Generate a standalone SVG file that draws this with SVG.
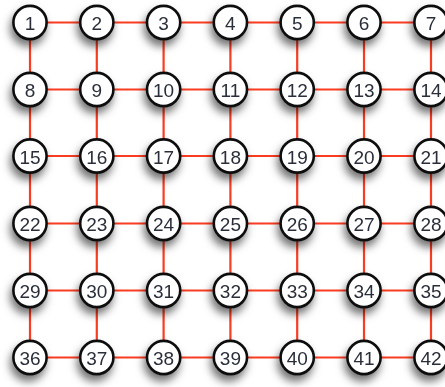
<svg xmlns="http://www.w3.org/2000/svg" width="445" height="387" viewBox="0 0 445 387">
<defs>
<filter id="sh" x="-60%" y="-60%" width="220%" height="240%">
<feDropShadow dx="-2" dy="6" stdDeviation="4" flood-color="#000" flood-opacity="0.55"/>
</filter>
<style>
.e{stroke:#fa3d22;stroke-width:2.2;fill:none}
.n circle{fill:#fff;stroke:#111;stroke-width:2.6}
.n text{font-family:"Liberation Sans",Arial,sans-serif;font-size:19px;fill:#2a2f3a;text-anchor:middle;dominant-baseline:central}
</style>
</defs>
<rect width="445" height="387" fill="#fff"/>
<g id="connectors">
<path class="e" d="M30,22.5H431M30,89.5H431M30,156H431M30,223.5H431M30,290.5H431M30,357.5H431M30,22.5V357.5M96.8,22.5V357.5M163.6,22.5V357.5M230.4,22.5V357.5M297.2,22.5V357.5M364,22.5V357.5M431,22.5V357.5"/>
</g>
<g id="n1" class="n" filter="url(#sh)"><circle cx="30" cy="22.5" r="16.6"/><text x="30" y="23.5">1</text></g>
<g id="n2" class="n" filter="url(#sh)"><circle cx="96.8" cy="22.5" r="16.6"/><text x="96.8" y="23.5">2</text></g>
<g id="n3" class="n" filter="url(#sh)"><circle cx="163.6" cy="22.5" r="16.6"/><text x="163.6" y="23.5">3</text></g>
<g id="n4" class="n" filter="url(#sh)"><circle cx="230.4" cy="22.5" r="16.6"/><text x="230.4" y="23.5">4</text></g>
<g id="n5" class="n" filter="url(#sh)"><circle cx="297.2" cy="22.5" r="16.6"/><text x="297.2" y="23.5">5</text></g>
<g id="n6" class="n" filter="url(#sh)"><circle cx="364" cy="22.5" r="16.6"/><text x="364" y="23.5">6</text></g>
<g id="n7" class="n" filter="url(#sh)"><circle cx="431" cy="22.5" r="16.6"/><text x="431" y="23.5">7</text></g>
<g id="n8" class="n" filter="url(#sh)"><circle cx="30" cy="89.5" r="16.6"/><text x="30" y="90.5">8</text></g>
<g id="n9" class="n" filter="url(#sh)"><circle cx="96.8" cy="89.5" r="16.6"/><text x="96.8" y="90.5">9</text></g>
<g id="n10" class="n" filter="url(#sh)"><circle cx="163.6" cy="89.5" r="16.6"/><text x="163.6" y="90.5">10</text></g>
<g id="n11" class="n" filter="url(#sh)"><circle cx="230.4" cy="89.5" r="16.6"/><text x="230.4" y="90.5">11</text></g>
<g id="n12" class="n" filter="url(#sh)"><circle cx="297.2" cy="89.5" r="16.6"/><text x="297.2" y="90.5">12</text></g>
<g id="n13" class="n" filter="url(#sh)"><circle cx="364" cy="89.5" r="16.6"/><text x="364" y="90.5">13</text></g>
<g id="n14" class="n" filter="url(#sh)"><circle cx="431" cy="89.5" r="16.6"/><text x="431" y="90.5">14</text></g>
<g id="n15" class="n" filter="url(#sh)"><circle cx="30" cy="156" r="16.6"/><text x="30" y="157">15</text></g>
<g id="n16" class="n" filter="url(#sh)"><circle cx="96.8" cy="156" r="16.6"/><text x="96.8" y="157">16</text></g>
<g id="n17" class="n" filter="url(#sh)"><circle cx="163.6" cy="156" r="16.6"/><text x="163.6" y="157">17</text></g>
<g id="n18" class="n" filter="url(#sh)"><circle cx="230.4" cy="156" r="16.6"/><text x="230.4" y="157">18</text></g>
<g id="n19" class="n" filter="url(#sh)"><circle cx="297.2" cy="156" r="16.6"/><text x="297.2" y="157">19</text></g>
<g id="n20" class="n" filter="url(#sh)"><circle cx="364" cy="156" r="16.6"/><text x="364" y="157">20</text></g>
<g id="n21" class="n" filter="url(#sh)"><circle cx="431" cy="156" r="16.6"/><text x="431" y="157">21</text></g>
<g id="n22" class="n" filter="url(#sh)"><circle cx="30" cy="223.5" r="16.6"/><text x="30" y="224.5">22</text></g>
<g id="n23" class="n" filter="url(#sh)"><circle cx="96.8" cy="223.5" r="16.6"/><text x="96.8" y="224.5">23</text></g>
<g id="n24" class="n" filter="url(#sh)"><circle cx="163.6" cy="223.5" r="16.6"/><text x="163.6" y="224.5">24</text></g>
<g id="n25" class="n" filter="url(#sh)"><circle cx="230.4" cy="223.5" r="16.6"/><text x="230.4" y="224.5">25</text></g>
<g id="n26" class="n" filter="url(#sh)"><circle cx="297.2" cy="223.5" r="16.6"/><text x="297.2" y="224.5">26</text></g>
<g id="n27" class="n" filter="url(#sh)"><circle cx="364" cy="223.5" r="16.6"/><text x="364" y="224.5">27</text></g>
<g id="n28" class="n" filter="url(#sh)"><circle cx="431" cy="223.5" r="16.6"/><text x="431" y="224.5">28</text></g>
<g id="n29" class="n" filter="url(#sh)"><circle cx="30" cy="290.5" r="16.6"/><text x="30" y="291.5">29</text></g>
<g id="n30" class="n" filter="url(#sh)"><circle cx="96.8" cy="290.5" r="16.6"/><text x="96.8" y="291.5">30</text></g>
<g id="n31" class="n" filter="url(#sh)"><circle cx="163.6" cy="290.5" r="16.6"/><text x="163.6" y="291.5">31</text></g>
<g id="n32" class="n" filter="url(#sh)"><circle cx="230.4" cy="290.5" r="16.6"/><text x="230.4" y="291.5">32</text></g>
<g id="n33" class="n" filter="url(#sh)"><circle cx="297.2" cy="290.5" r="16.6"/><text x="297.2" y="291.5">33</text></g>
<g id="n34" class="n" filter="url(#sh)"><circle cx="364" cy="290.5" r="16.6"/><text x="364" y="291.5">34</text></g>
<g id="n35" class="n" filter="url(#sh)"><circle cx="431" cy="290.5" r="16.6"/><text x="431" y="291.5">35</text></g>
<g id="n36" class="n" filter="url(#sh)"><circle cx="30" cy="357.5" r="16.6"/><text x="30" y="358.5">36</text></g>
<g id="n37" class="n" filter="url(#sh)"><circle cx="96.8" cy="357.5" r="16.6"/><text x="96.8" y="358.5">37</text></g>
<g id="n38" class="n" filter="url(#sh)"><circle cx="163.6" cy="357.5" r="16.6"/><text x="163.6" y="358.5">38</text></g>
<g id="n39" class="n" filter="url(#sh)"><circle cx="230.4" cy="357.5" r="16.6"/><text x="230.4" y="358.5">39</text></g>
<g id="n40" class="n" filter="url(#sh)"><circle cx="297.2" cy="357.5" r="16.6"/><text x="297.2" y="358.5">40</text></g>
<g id="n41" class="n" filter="url(#sh)"><circle cx="364" cy="357.5" r="16.6"/><text x="364" y="358.5">41</text></g>
<g id="n42" class="n" filter="url(#sh)"><circle cx="431" cy="357.5" r="16.6"/><text x="431" y="358.5">42</text></g>
</svg>
